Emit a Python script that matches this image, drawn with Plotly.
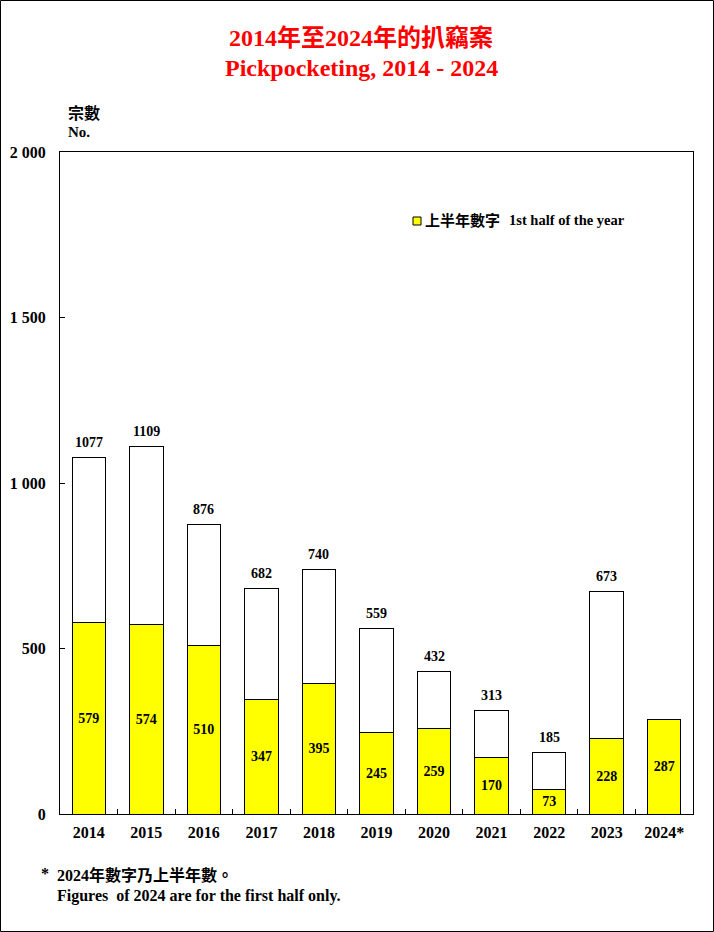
import plotly.graph_objects as go

years = ["2014", "2015", "2016", "2017", "2018", "2019", "2020", "2021", "2022", "2023", "2024*"]
first_half = [579, 574, 510, 347, 395, 245, 259, 170, 73, 228, 287]
totals = [1077, 1109, 876, 682, 740, 559, 432, 313, 185, 673, None]
yticks = [0, 500, 1000, 1500, 2000]
yticklabels = ["0", "500", "1 000", "1 500", "2 000"]

second_half = [t - f if t is not None else None for t, f in zip(totals, first_half)]

FONT = "Liberation Serif, Times New Roman, Noto Sans CJK TC, serif"

fig = go.Figure()
fig.add_trace(go.Bar(
    x=years, y=first_half, name="上半年數字 1st half of the year",
    marker=dict(color="#ffff00", line=dict(color="black", width=1)),
    width=0.58,
    text=[f"<b>{v}</b>" for v in first_half],
    textposition="inside", insidetextanchor="middle",
    textfont=dict(family=FONT, size=14, color="black"),
    constraintext="none", cliponaxis=False, showlegend=False,
))
fig.add_trace(go.Bar(
    x=years, y=second_half, name="second",
    marker=dict(color="white", line=dict(color="black", width=1)),
    width=0.58, showlegend=False, hoverinfo="skip",
))

# total labels above the bars (x given as category index)
for i, tot in enumerate(totals):
    if tot is None:
        continue
    fig.add_annotation(x=i, y=tot, xref="x", yref="y", text=f"<b>{tot}</b>",
                       showarrow=False, yanchor="middle", yshift=15,
                       font=dict(family=FONT, size=14, color="black"))

W, H = 714, 932
L, R, T, B = 60, 21, 152, 118
pw, ph = W - L - R, H - T - B

fig.update_layout(
    width=W, height=H,
    margin=dict(l=L, r=R, t=T, b=B, pad=0, autoexpand=False),
    paper_bgcolor="white", plot_bgcolor="white",
    barmode="stack",
    font=dict(family=FONT, size=16, color="black"),
    showlegend=False,
    xaxis=dict(
        type="category", categoryorder="array", categoryarray=years,
        range=[-0.5, len(years) - 0.5],
        showline=True, mirror=True, linecolor="black", linewidth=1,
        ticks="inside", ticklen=5, tickcolor="black", tickson="boundaries",
        tickfont=dict(family=FONT, size=16, color="black"),
        tickvals=years, ticktext=[f"<b>{y}</b>" for y in years],
        showgrid=False, ticklabelstandoff=4, automargin=False,
    ),
    yaxis=dict(
        range=[0, 2000], showline=True, mirror=True, linecolor="black", linewidth=1,
        ticks="inside", ticklen=5, tickcolor="black",
        tickvals=yticks, ticktext=[f"<b>{t}</b>" for t in yticklabels],
        tickfont=dict(family=FONT, size=16, color="black"),
        showgrid=False, zeroline=False, ticklabelstandoff=10, automargin=False,
    ),
)

def px_x(x):
    return (x - L) / pw

def px_y(y):
    return (H - B - y) / ph

ann = [
    dict(text="<b>2014年至2024年的扒竊案</b>", x=361, y=38, size=24, color="red", xanchor="center"),
    dict(text="<b>Pickpocketing, 2014 - 2024</b>", x=361, y=68, size=24, color="red", xanchor="center"),
    dict(text="<b>宗數</b>", x=66, y=113, size=16, color="black", xanchor="left"),
    dict(text="<b>No.</b>", x=66, y=132, size=15, color="black", xanchor="left"),
    dict(text="<b>*</b>", x=39, y=873, size=16, color="black", xanchor="left"),
    dict(text="<b>2024年數字乃上半年數。</b>", x=55, y=875, size=16, color="black", xanchor="left"),
    dict(text="<b>Figures  of 2024 are for the first half only.</b>", x=55, y=896, size=16, color="black", xanchor="left"),
    dict(text="<b>上半年數字</b>", x=423, y=220, size=15, color="black", xanchor="left"),
    dict(text="<b>1st half of the year</b>", x=507, y=220, size=14.5, color="black", xanchor="left"),
]
for a in ann:
    fig.add_annotation(
        text=a["text"], xref="paper", yref="paper",
        x=px_x(a["x"]), y=px_y(a["y"]),
        xanchor=a["xanchor"], yanchor="middle", showarrow=False,
        font=dict(family=FONT, size=a["size"], color=a["color"]),
    )

# legend swatch
fig.add_shape(type="rect", xref="paper", yref="paper",
              x0=px_x(413), x1=px_x(421), y0=px_y(225), y1=px_y(217),
              line=dict(color="black", width=1), fillcolor="#ffff00")

# outer figure border
fig.add_shape(type="rect", xref="paper", yref="paper",
              x0=px_x(0.5), x1=px_x(W - 0.5), y0=px_y(H - 0.5), y1=px_y(0.5),
              line=dict(color="black", width=1), fillcolor="rgba(0,0,0,0)", layer="above")

fig.write_html("out.html", config={"displayModeBar": False},
               post_script="document.body.style.margin='0';document.body.style.padding='0';document.documentElement.style.overflow='hidden';")
